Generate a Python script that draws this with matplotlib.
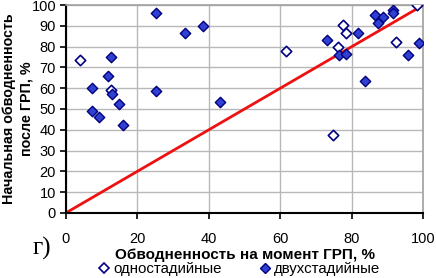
import matplotlib
matplotlib.use("Agg")
import matplotlib.pyplot as plt
from matplotlib.lines import Line2D

plt.rcParams['font.family'] = ['Liberation Sans', 'DejaVu Sans']

# single-stage (open diamonds)
one_x = [4, 12.5, 61.6, 74.7, 77.5, 78.5, 76, 92.4, 98.1]
one_y = [73.5, 59, 77.7, 37.7, 90.6, 86.7, 79.6, 82.3, 99.9]

# two-stage (filled diamonds)
two_x = [25.1, 33.4, 12.5, 11.8, 7.2, 13, 25.1, 14.9, 7.3, 9.2, 16.1,
         38.4, 43, 73.1, 76.5, 78.5, 81.8, 83.7, 86.6, 88.6, 87.2, 91.6, 91.6, 95.7, 98.8]
two_y = [96.1, 86.3, 75.1, 65.7, 60.3, 57.4, 58.7, 52.3, 49, 46.2, 42.5,
         90, 53.2, 83.1, 75.8, 76.4, 86.3, 63.6, 95.4, 94.1, 91.3, 97.4, 96.3, 75.9, 81.5]

line_x = [0, 100]
line_y = [0, 100]

xticks = [0, 20, 40, 60, 80, 100]
yticks = [0, 10, 20, 30, 40, 50, 60, 70, 80, 90, 100]

fig = plt.figure(figsize=(4.36, 2.78), dpi=100)
ax = fig.add_axes([0.151, 0.234, 0.820, 0.748])

ax.set_xlim(0, 100)
ax.set_ylim(0, 100)
ax.set_xticks(xticks)
ax.set_yticks(yticks)
ax.grid(True, color='#b8b8b8', linewidth=1.0)
ax.set_axisbelow(True)

ax.plot(line_x, line_y, color='#ee1111', linewidth=2.0, zorder=2)
ax.scatter(one_x, one_y, marker='D', s=28, facecolor='white', edgecolor='#000080',
           linewidth=1.2, zorder=3)
ax.scatter(two_x, two_y, marker='D', s=28, facecolor='#3040d0', edgecolor='#000080',
           linewidth=1.0, zorder=4)

for s in ['top', 'right']:
    ax.spines[s].set_color('#a0a0a0')
    ax.spines[s].set_linewidth(1.2)
for s in ['left', 'bottom']:
    ax.spines[s].set_color('black')
    ax.spines[s].set_linewidth(1.5)

ax.tick_params(axis='both', labelsize=10.5, length=4, width=1.2, direction='out')
ax.tick_params(axis='y', pad=3)
ax.tick_params(axis='x', pad=10)

ax.set_xlabel('Обводненность на момент ГРП, %', fontsize=11, fontweight='bold', labelpad=1)
fig.text(0.040, 0.61, 'Начальная обводненность\nпосле ГРП, %', fontsize=10.3,
         fontweight='bold', rotation=90, ha='center', va='center', linespacing=1.3,
         multialignment='center')

fig.text(0.097, 0.108, 'г)', fontsize=18, family=['Liberation Serif', 'DejaVu Serif'],
         ha='center', va='center')

handles = [
    Line2D([], [], marker='D', linestyle='none', markersize=5, markerfacecolor='white',
           markeredgecolor='#000080', markeredgewidth=1.2, label='одностадийные'),
    Line2D([], [], marker='D', linestyle='none', markersize=5, markerfacecolor='#3040d0',
           markeredgecolor='#000080', markeredgewidth=1.0, label='двухстадийные'),
]
fig.legend(handles=handles, loc='center', bbox_to_anchor=(0.55, 0.032), ncol=2,
           frameon=False, fontsize=10.8, handlelength=0.6, handletextpad=0.3,
           columnspacing=2.6, borderpad=0)

fig.savefig('out.png', dpi=100)
